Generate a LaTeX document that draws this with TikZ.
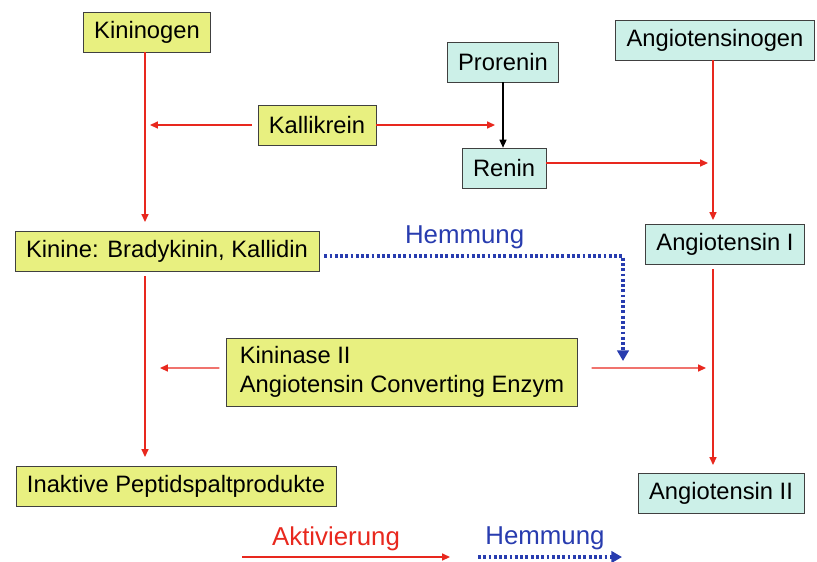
\documentclass[tikz,border=0pt]{standalone}
\usepackage{fontspec}
\setmainfont{Liberation Sans}
\usetikzlibrary{arrows.meta}
\definecolor{gelb}{RGB}{232,240,128}
\definecolor{tuerkis}{RGB}{204,240,232}
\definecolor{rot}{RGB}{232,40,30}
\definecolor{blau}{RGB}{40,60,175}
\begin{document}
\begin{tikzpicture}[
  font=\fontsize{13.5}{16.5}\selectfont,
  kbox/.style={draw=black!75,rectangle,fill=gelb,minimum height=0.8cm,inner xsep=0.22cm},
  abox/.style={draw=black!75,rectangle,fill=tuerkis,minimum height=0.8cm,inner xsep=0.22cm},
  act/.style={-{Triangle[length=4.5pt,width=4pt]},draw=rot,line width=0.8pt},
  inh/.style={-{Triangle[length=6pt,width=6.5pt]},draw=blau,line width=1.8pt,dash pattern=on 1.6pt off 1.4pt},
  lab/.style={font=\fontsize{14.7}{17}\selectfont}
]
\useasboundingbox (0,0) rectangle (16.34,-11.22);

\node[kbox] (Kininogen) at (2.94,-0.64) {Kininogen};
\node[kbox] (Kallikrein) at (6.34,-2.5) {Kallikrein};
\node[abox] (Prorenin) at (10.06,-1.24) {Prorenin};
\node[abox] (Angiotensinogen) at (14.3,-0.8) {Angiotensinogen};
\node[abox] (Renin) at (10.08,-3.36) {Renin};
\node[kbox] (Kinine) at (3.34,-5.02) {Kinine: Bradykinin, Kallidin};
\node[abox] (AngI) at (14.5,-4.88) {Angiotensin I};
\node[kbox,align=left,minimum height=1.36cm,inner xsep=0.26cm] (Kininase) at (8.04,-7.44) {Kininase II\\Angiotensin Converting Enzym};
\node[kbox] (Inaktiv) at (3.52,-9.72) {Inaktive Peptidspaltprodukte};
\node[abox] (AngII) at (14.42,-9.86) {Angiotensin II};

% Enden der Pfeile
\coordinate (kA) at (2.9,-4.44);
\coordinate (kB) at (3.0,-2.5);
\coordinate (kC) at (9.9,-2.5);
\coordinate (kD) at (2.9,-9.14);
\coordinate (kE) at (3.2,-7.36);
\coordinate (kF) at (14.12,-7.36);
\coordinate (rA) at (14.16,-3.26);
\coordinate (aA) at (14.26,-4.4);
\coordinate (aB) at (14.26,-9.3);
\coordinate (hA) at (12.46,-7.22);
\coordinate (lg1) at (4.84,-11.14);
\coordinate (lg2) at (9.0,-11.14);
\coordinate (lg3) at (9.56,-11.14);
\coordinate (lg4) at (12.44,-11.14);

\draw[act] (Kininogen.south -| kA) -- (kA);
\draw[act] ([xshift=-0.12cm]Kallikrein.west) -- (kB);
\draw[act] (Kallikrein.east) -- (kC);
\draw[-{Triangle[length=4.5pt,width=4pt]},line width=0.6pt] (Prorenin.south) -- (Prorenin.south |- Renin.north);
\draw[act] ([yshift=0.1cm]Renin.east) -- (rA);
\draw[act] (Angiotensinogen.south -| aA) -- (aA);
\draw[act] ([yshift=-0.1cm]Kinine.south -| kD) -- (kD);
\draw[act] ([xshift=-0.14cm,yshift=0.08cm]Kininase.west) -- (kE);
\draw[act] ([xshift=0.28cm,yshift=0.08cm]Kininase.east) -- (kF);
\draw[act] ([yshift=-0.1cm]AngI.south -| aB) -- (aB);
\draw[inh] ([xshift=0.1cm,yshift=-0.1cm]Kinine.east) -| (hA) node[pos=0.235,above,lab,text=blau]{Hemmung};

% Legende
\draw[act] (lg1) -- (lg2) node[midway,above,lab,text=rot,xshift=-0.2cm]{Aktivierung};
\draw[inh] (lg3) -- (lg4) node[midway,above,lab,text=blau,xshift=-0.1cm]{Hemmung};
\end{tikzpicture}
\end{document}
